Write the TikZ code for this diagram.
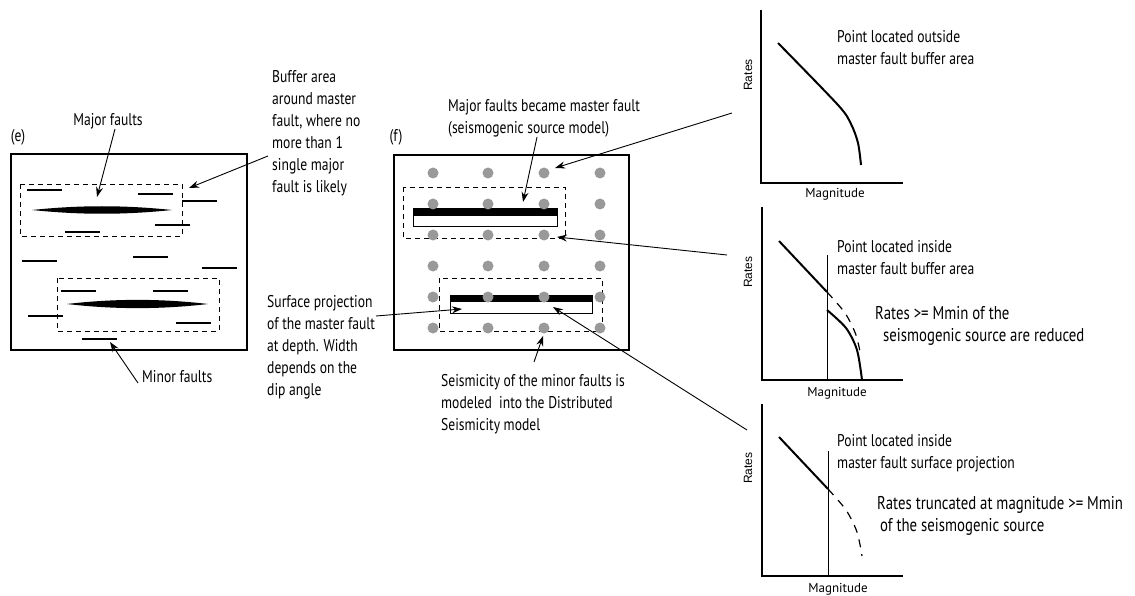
\documentclass[tikz,border=0pt]{standalone}
\usepackage{fontspec}
\setmainfont{PT Sans}[FakeStretch=0.8]
\newfontfamily\mgfont{PT Sans}
\newfontfamily\axfont{Liberation Sans}
\usetikzlibrary{arrows.meta,
	positioning}
\tikzstyle{mf}=[line width=2.4pt]
\tikzstyle{buf}=[draw, line width=0.9pt, dash pattern=on 5pt off 4pt]
\tikzstyle{box}=[draw, line width=1.1pt]
\tikzstyle{txt}=[inner sep=0, anchor=north west, align=left,
		font=\fontsize{17}{22}\selectfont]
\tikzstyle{lb}=[inner sep=0, font=\fontsize{17}{20}\selectfont]
\tikzstyle{nt}=[txt, font=\fontsize{18.5}{22.5}\selectfont]
\tikzstyle{ar}=[-{Stealth[length=10pt, width=7pt]}, line width=0.9pt]
\tikzstyle{ax}=[line width=2.2pt]
\tikzstyle{cv}=[line width=2pt]
\tikzstyle{cvd}=[line width=1.2pt, dash pattern=on 8pt off 7pt]
\tikzstyle{rt}=[inner sep=0, rotate=90, font=\axfont\fontsize{12}{14}\selectfont]
\tikzstyle{mg}=[inner sep=0, font=\mgfont\fontsize{13}{15}\selectfont]

\begin{document}
\begin{tikzpicture}[x=1pt, y=-1pt]
	\useasboundingbox (0,0) rectangle (1135,596);
	% (e) faults
	\node[lb] (e) at (18,137) {(e)};
	\draw[box] (11,154) rectangle (247,350);
	\draw[buf] (20,184) rectangle (182,236);
	\draw[buf] (57,278) rectangle (219,331);
	\fill (32,210) .. controls (80,205) and (124,205) .. (172,210)
		.. controls (124,215) and (80,215) .. (32,210);
	\fill (67,304) .. controls (114,298.5) and (161,298.5) .. (208,304)
		.. controls (161,309.5) and (114,309.5) .. (67,304);
	\foreach \x/\y in {27/190, 138/194, 182/201, 155/225, 65/232, 22/261, 133/257,
		202/268, 61/291, 153/291, 28/316, 176/323, 82/339}
		\draw[mf] (\x,\y) -- ++(35,0);
	\node[lb] (majlbl) at (108,121) {Major faults};
	\node[txt] (buflbl) at (272,70) {Buffer area\\around master\\fault, where no\\more than 1\\single major\\fault is likely};
	\node[lb, anchor=west] (minlbl) at (142,377) {Minor faults};
	\node[txt] (surflbl) at (267,295) {Surface projection\\of the master fault\\at depth. Width\\depends on the\\dip angle};
	\coordinate (majend) at (97,197);
	\coordinate (bufst) at (268,156);
	\coordinate (bufend) at (189,188);
	\coordinate (minend) at (110,342);
	\draw[ar] ([xshift=7pt]majlbl.south) -- (majend);
	\draw[ar] (bufst) -- (bufend);
	\draw[ar] ([xshift=-4pt,yshift=-6pt]minlbl.west) -- (minend);

	% (f) master faults and grid
	\node[lb] (f) at (396,137) {(f)};
	\draw[box] (394,155) rectangle (629,350);
	\draw[buf] (403,187) rectangle (565,238);
	\draw[buf] (439,278) rectangle (602,331);
	\draw[line width=0.9pt] (413,208) rectangle (557,226);
	\fill (413,208) rectangle (557,216);
	\draw[line width=0.9pt] (450,295) rectangle (592,313);
	\fill (450,295) rectangle (592,302);
	\foreach \x in {433,488,544,600}
		\foreach \y in {173,204,235,266,297,328}
			\fill[black!40] (\x,\y) circle (5.5);
	\node[txt] (becamelbl) at (448,99) {Major faults became master fault\\(seismogenic source model)};
	\node[txt] (seislbl) at (441,374) {Seismicity of the minor faults is\\modeled \ into the Distributed\\Seismicity model};
	\coordinate (surfst) at (376,316);
	\coordinate (surfend) at (462,309);
	\coordinate (becend) at (523,202);
	\coordinate (seisend) at (543,336);
	\draw[ar] (surfst) -- (surfend);
	\draw[ar] ([xshift=89pt]becamelbl.south west) -- (becend);
	\draw[ar] ([xshift=93pt,yshift=12pt]seislbl.north west) -- (seisend);

	% magnitude-rate plots
	\draw[ax] (761,10) -- (761,183) -- (903,183);
	\draw[cv] plot[smooth] coordinates {(778,43) (838,105) (851,124) (858,143) (861,165)};
	\node[rt] (r1) at (748,75) {Rates};
	\node[mg] (m1) at (835,194) {Magnitude};
	\node[txt] (p1lbl) at (837,30) {Point located outside\\master fault buffer area};

	\draw[ax] (762,207) -- (762,380) -- (903,380);
	\draw[line width=0.8pt] (827,255) -- (827,380);
	\draw[cv] (779,241) -- (827,292);
	\draw[cvd] plot[smooth] coordinates {(827,292) (845,313) (856,335) (861,357)};
	\draw[cv] plot[smooth] coordinates {(827,310) (846,328) (857,350) (862,380)};
	\node[rt] (r2) at (748,272) {Rates};
	\node[mg] (m2) at (837,393) {Magnitude};
	\node[txt] (p2lbl) at (837,240) {Point located inside\\master fault buffer area};
	\node[nt] (p2note) at (875,306) {Rates >= Mmin of the\\\hspace*{8pt}seismogenic source are reduced};

	\draw[ax] (762,404) -- (762,576) -- (903,576);
	\draw[line width=0.8pt] (828,451) -- (828,576);
	\draw[cv] (779,437) -- (828,489);
	\draw[cvd] plot[smooth] coordinates {(828,489) (846,510) (857,532) (862,556)};
	\node[rt] (r3) at (748,468) {Rates};
	\node[mg] (m3) at (838,589) {Magnitude};
	\node[txt] (p3lbl) at (837,434) {Point located inside\\master fault surface projection};
	\node[nt] (p3note) at (877,496) {Rates truncated at magnitude >= Mmin\\\hspace*{3pt}of the seismogenic source};

	% arrows from plots to points
	\coordinate (p1st) at (732,113);
	\coordinate (p1end) at (555,168);
	\coordinate (p2st) at (727,255);
	\coordinate (p2end) at (557,237);
	\coordinate (p3st) at (747,430);
	\coordinate (p3end) at (553,307);
	\draw[ar] (p1st) -- (p1end);
	\draw[ar] (p2st) -- (p2end);
	\draw[ar] (p3st) -- (p3end);
\end{tikzpicture}
\end{document}
